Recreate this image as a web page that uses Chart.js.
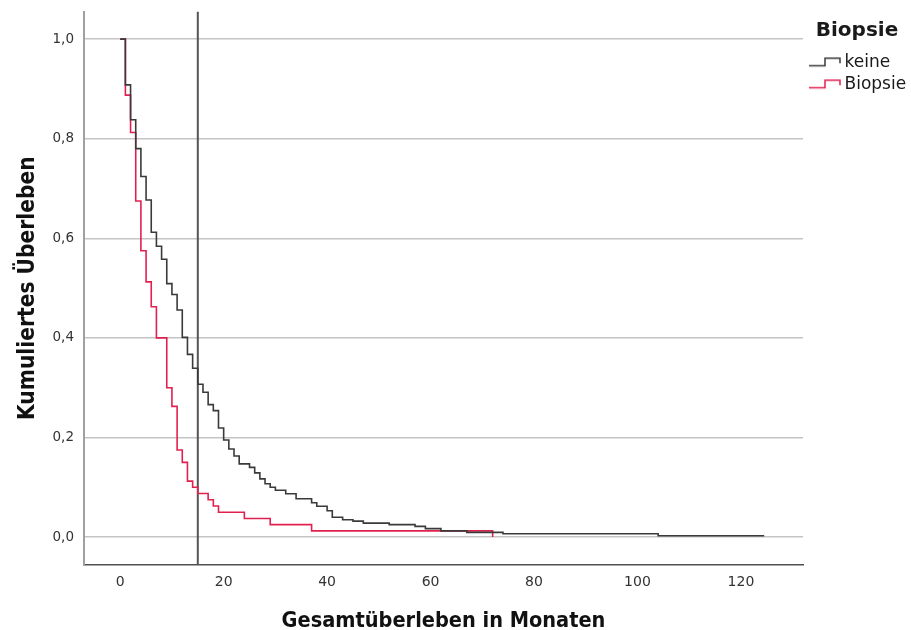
<!DOCTYPE html>
<html>
<head>
<meta charset="utf-8">
<script src="https://cdn.jsdelivr.net/npm/chart.js@4.4.1/dist/chart.umd.min.js"></script>
<style>
  html, body { margin: 0; padding: 0; background: #ffffff; }
  #wrap { width: 911px; height: 630px; position: relative; }
</style>
</head>
<body>
<div id="wrap"><canvas id="c" width="911" height="630"></canvas></div>
<script>
// ---------------- data ----------------
const groupNames = ['keine', 'Biopsie'];
const keineMonths = [0,1,2,3,4,5,6,7,8,9,10,11,12,13,14,15,16,17,18,19,20,21,22,23,25,26,27,28,29,30,32,34,37,38,40,41,43,45,47,52,57,59,62,67,74,104,124.5];
const keineSurvival = [1,0.908,0.838,0.78,0.724,0.677,0.612,0.584,0.558,0.509,0.487,0.456,0.401,0.367,0.339,0.307,0.291,0.266,0.254,0.219,0.195,0.177,0.163,0.147,0.14,0.129,0.117,0.107,0.1,0.094,0.087,0.077,0.069,0.062,0.053,0.04,0.035,0.032,0.028,0.025,0.0216,0.017,0.0125,0.0096,0.0066,0.0028,0.0028];
const biopsieMonths = [0,1,2,3,4,5,6,7,9,10,11,12,13,14,15,17,18,19,24,29,37,72];
const biopsieSurvival = [1,0.8875,0.8125,0.675,0.575,0.5125,0.4625,0.4,0.3,0.2625,0.175,0.15,0.1125,0.1,0.0875,0.075,0.0625,0.05,0.0375,0.025,0.0125,0];
const xTickValues = [0,20,40,60,80,100,120];
const yTickValues = [0,0.2,0.4,0.6,0.8,1.0];
const yTickLabels = ['0,0','0,2','0,4','0,6','0,8','1,0'];
const markerMonth = 15;
const xTitle = 'Gesamtüberleben in Monaten';
const yTitle = 'Kumuliertes Überleben';
const legendTitle = 'Biopsie';

// ---------------- styling helpers ----------------
const colKeine = '#3a3a3a';
const colBiopsie = '#e2204f';

function hasFont(fam) {
  const g = document.createElement('canvas').getContext('2d');
  const s = 'Gesamtüberleben iMW 0123';
  for (const fb of ['monospace', 'serif']) {
    g.font = 'bold 40px ' + fb;
    const a = g.measureText(s).width;
    g.font = 'bold 40px "' + fam + '", ' + fb;
    const b = g.measureText(s).width;
    if (a !== b) return true;
  }
  return false;
}
const titleFam = ['Liberation Sans Narrow', 'DejaVu Sans Condensed', 'Roboto Condensed', 'Liberation Sans'].find(hasFont) || 'sans-serif';
function fitSize(text, fam, weight, target) {
  const g = document.createElement('canvas').getContext('2d');
  g.font = weight + ' 100px "' + fam + '"';
  return 100 * target / g.measureText(text).width;
}
const xTitleSize = fitSize(xTitle, titleFam, 'bold', 324);
const yTitleSize = fitSize(yTitle, titleFam, 'bold', 264);

function stepIcon(color) {
  const c = document.createElement('canvas');
  c.width = 38; c.height = 14;
  const g = c.getContext('2d');
  g.strokeStyle = color; g.lineWidth = 1.5;
  g.beginPath();
  g.moveTo(6, 10.5); g.lineTo(22, 10.5); g.lineTo(22, 3); g.lineTo(37, 3); g.lineTo(37, 8);
  g.stroke();
  return c;
}

const legendWidthPlugin = {
  id: 'legendWidth',
  beforeInit(chart) {
    const lg = chart.legend;
    if (!lg) return;
    const fit = lg.fit.bind(lg);
    lg.fit = function () { fit(); this.width = 108; };
  }
};
const markerPlugin = {
  id: 'marker',
  beforeDatasetsDraw(chart) {
    const { ctx, chartArea, scales } = chart;
    const px = scales.x.getPixelForValue(markerMonth);
    ctx.save();
    ctx.strokeStyle = '#555555';
    ctx.lineWidth = 2;
    ctx.beginPath();
    ctx.moveTo(px, chartArea.top);
    ctx.lineTo(px, chartArea.bottom);
    ctx.stroke();
    ctx.restore();
  }
};

const toPoints = (xs, ys) => xs.map((x, i) => ({ x: x, y: ys[i] }));

new Chart(document.getElementById('c'), {
  type: 'line',
  data: {
    datasets: [
      { label: groupNames[0], data: toPoints(keineMonths, keineSurvival), borderColor: colKeine, backgroundColor: colKeine,
        borderWidth: 1.6, stepped: true, pointRadius: 0, pointHoverRadius: 0, pointStyle: stepIcon(colKeine), fill: false },
      { label: groupNames[1], data: toPoints(biopsieMonths, biopsieSurvival), borderColor: colBiopsie, backgroundColor: colBiopsie,
        borderWidth: 1.6, stepped: true, pointRadius: 0, pointHoverRadius: 0, pointStyle: stepIcon(colBiopsie), fill: false }
    ]
  },
  options: {
    responsive: false,
    animation: false,
    events: [],
    layout: { padding: { top: 11.7, right: 0, bottom: 0, left: 0 } },
    scales: {
      x: {
        type: 'linear', min: -7, max: 132,
        afterBuildTicks(s) { s.ticks = xTickValues.map(v => ({ value: v })); },
        afterFit(s) { s.height = 65.5; s.paddingLeft = 0; s.paddingRight = 0; },
        grid: { display: false, drawTicks: false },
        border: { display: true, color: '#505050', width: 1.5 },
        ticks: { padding: 9, color: '#333333', font: { family: 'DejaVu Sans', size: 14 }, maxRotation: 0, autoSkip: false },
        title: { display: true, text: xTitle, color: '#111111', padding: { top: 0, bottom: 0 },
                 font: { family: titleFam, size: xTitleSize, weight: 'bold', lineHeight: 0.8 } }
      },
      y: {
        type: 'linear', min: -0.055, max: 1.055,
        afterBuildTicks(s) { s.ticks = yTickValues.map(v => ({ value: v })); },
        afterFit(s) { s.width = 84; s.paddingTop = 0; s.paddingBottom = 0; },
        grid: { display: true, drawTicks: false, color: '#c4c4c4', lineWidth: 1.5 },
        border: { display: true, color: '#a0a0a0', width: 2 },
        ticks: { padding: 10, color: '#333333', font: { family: 'DejaVu Sans', size: 13.5 },
                 callback: (v, i) => yTickLabels[i] },
        title: { display: true, text: yTitle, color: '#111111', padding: { top: 28 - yTitleSize * 0.4, bottom: 0 },
                 font: { family: titleFam, size: yTitleSize, weight: 'bold', lineHeight: 0.8 } }
      }
    },
    plugins: {
      tooltip: { enabled: false },
      legend: {
        position: 'right', align: 'start',
        title: { display: true, text: legendTitle, color: '#1a1a1a', padding: { top: 9, bottom: 4 },
                 font: { family: 'DejaVu Sans', size: 20, weight: 'bold' } },
        labels: { usePointStyle: true, pointStyleWidth: 28, padding: 5, color: '#1a1a1a',
                  font: { family: 'DejaVu Sans', size: 17 } }
      }
    }
  },
  plugins: [legendWidthPlugin, markerPlugin]
});
</script>
</body>
</html>
